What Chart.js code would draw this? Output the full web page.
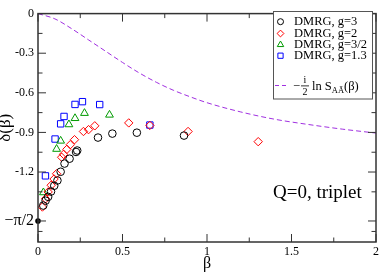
<!DOCTYPE html>
<html>
<head>
<meta charset="utf-8">
<script src="https://cdn.jsdelivr.net/npm/chart.js@4.4.0/dist/chart.umd.min.js"></script>
<style>
html, body { margin: 0; padding: 0; background: #fff; }
</style>
</head>
<body>
<canvas id="grafico" width="382" height="273"></canvas>
<script>
// DMRG data, g = 3
const betaG3 = [0.031, 0.045, 0.060, 0.077, 0.096, 0.115, 0.134, 0.157, 0.187, 0.225, 0.232, 0.355, 0.440, 0.585, 0.864];
const deltaG3 = [-1.454, -1.417, -1.388, -1.348, -1.304, -1.264, -1.198, -1.136, -1.099, -1.048, -1.037, -0.939, -0.909, -0.902, -0.924];
// g = 2
const betaG2 = [0.026, 0.045, 0.060, 0.078, 0.095, 0.110, 0.140, 0.151, 0.171, 0.191, 0.216, 0.269, 0.299, 0.336, 0.537, 0.662, 0.888, 1.303];
const deltaG2 = [-1.465, -1.403, -1.351, -1.300, -1.253, -1.213, -1.088, -1.066, -1.028, -0.993, -0.955, -0.893, -0.879, -0.850, -0.828, -0.847, -0.893, -0.970];
// g = 3/2
const betaG15 = [0.032, 0.110, 0.134, 0.183, 0.219, 0.275, 0.423];
const deltaG15 = [-1.355, -1.026, -0.964, -0.840, -0.793, -0.754, -0.767];
// g = 1.3
const betaG13 = [0.044, 0.101, 0.134, 0.154, 0.219, 0.263, 0.365, 0.662];
const deltaG13 = [-1.229, -0.950, -0.835, -0.779, -0.688, -0.667, -0.689, -0.844];
// -1/2 ln S(beta)
const betaCurva = [0, 0.1, 0.2, 0.3, 0.4, 0.5, 0.6, 0.7, 0.8, 0.9, 1.0, 1.2, 1.4, 1.6, 1.8, 2.0];
const deltaCurva = [0, -0.04, -0.115, -0.2, -0.285, -0.37, -0.45, -0.52, -0.58, -0.63, -0.675, -0.745, -0.80, -0.84, -0.875, -0.905];
// limit point at beta = 0
const betaLimite = [0];
const deltaLimite = [-Math.PI / 2];

const xTicks = [0, 0.5, 1, 1.5, 2];
const xMinor = [0.25, 0.75, 1.25, 1.75];
const yTicks = [0, -0.3, -0.6, -0.9, -1.2, -Math.PI / 2];
const yMinor = [-0.15, -0.45, -0.75, -1.05, -1.35, -1.65];

const serif = '"Liberation Serif", "Times New Roman", serif';

function puntos(xs, ys) {
    return xs.map((x, i) => ({ x: x, y: ys[i] }));
}

// frame with inward ticks on all four sides
const marco = {
    id: 'marco',
    afterDatasetsDraw(chart) {
        const { ctx, chartArea: a, scales } = chart;
        ctx.save();
        ctx.strokeStyle = '#333';
        ctx.lineWidth = 1;
        ctx.beginPath();
        xTicks.concat(xMinor).forEach(v => {
            const len = xTicks.includes(v) ? 8 : 4.5;
            const px = scales.x.getPixelForValue(v);
            ctx.moveTo(px, a.bottom); ctx.lineTo(px, a.bottom - len);
            ctx.moveTo(px, a.top); ctx.lineTo(px, a.top + len);
        });
        yTicks.concat(yMinor).forEach(v => {
            const len = yTicks.includes(v) ? 8 : 4.5;
            const py = scales.y.getPixelForValue(v);
            ctx.moveTo(a.left, py); ctx.lineTo(a.left + len, py);
            ctx.moveTo(a.right, py); ctx.lineTo(a.right - len, py);
        });
        ctx.stroke();
        ctx.lineWidth = 1.5;
        ctx.strokeRect(a.left, a.top, a.right - a.left, a.bottom - a.top);
        ctx.restore();
    }
};

// legend box and the "Q=0, triplet" note
const leyenda = {
    id: 'leyenda',
    afterDraw(chart) {
        const { ctx } = chart;
        ctx.save();
        ctx.fillStyle = '#fff';
        ctx.fillRect(273, 11.5, 99, 87.5);
        ctx.strokeStyle = '#555';
        ctx.lineWidth = 1;
        ctx.strokeRect(273.5, 11.5, 99, 87.5);

        const filas = [21.7, 33.5, 44.7, 55.7];
        chart.data.datasets.filter(d => d.enLeyenda).forEach((d, i) => {
            ctx.strokeStyle = d.borderColor;
            ctx.fillStyle = 'rgba(0,0,0,0)';
            ctx.lineWidth = 1;
            Chart.helpers.drawPoint(ctx, {
                pointStyle: d.pointStyle, radius: d.pointRadius - 0.8, rotation: 0, borderWidth: 1
            }, 280.5, filas[i]);
            ctx.fillStyle = '#000';
            ctx.font = '12.5px ' + serif;
            ctx.textBaseline = 'middle';
            ctx.fillText(d.label, 294, filas[i] + 0.5);
        });

        // dashed entry
        ctx.strokeStyle = '#a030e0';
        ctx.setLineDash([4, 3]);
        ctx.beginPath();
        ctx.moveTo(275, 85.5); ctx.lineTo(288, 85.5);
        ctx.stroke();
        ctx.setLineDash([]);
        ctx.fillStyle = '#000';
        ctx.textBaseline = 'alphabetic';
        ctx.font = '12.5px ' + serif;
        ctx.fillText('\u2212', 293, 90);
        ctx.font = '10px ' + serif;
        ctx.textAlign = 'center';
        ctx.fillText('i', 305, 83);
        ctx.fillText('2', 305, 95);
        ctx.fillRect(301, 85.5, 8, 0.8);
        ctx.textAlign = 'left';
        ctx.font = '12.5px ' + serif;
        ctx.fillText('ln S', 312, 90);
        const wS = ctx.measureText('ln S').width;
        ctx.font = '8.5px ' + serif;
        ctx.fillText('A\u0100', 312 + wS, 93);
        const wA = ctx.measureText('A\u0100').width;
        ctx.font = '12.5px ' + serif;
        ctx.fillText('(\u03b2)', 312 + wS + wA, 90);

        ctx.font = '19px ' + serif;
        ctx.fillText('Q=0, triplet', 273, 198);
        ctx.restore();
    }
};

const ctx = document.getElementById('grafico').getContext('2d');

new Chart(ctx, {
    type: 'scatter',
    data: {
        datasets: [
            {
                label: 'curva',
                data: puntos(betaCurva, deltaCurva),
                showLine: true,
                borderColor: '#a030e0',
                borderWidth: 1,
                borderDash: [5, 3],
                pointRadius: 0,
                cubicInterpolationMode: 'monotone'
            },
            {
                label: 'DMRG, g=3', enLeyenda: true,
                data: puntos(betaG3, deltaG3),
                pointStyle: 'circle', pointRadius: 3.8,
                borderColor: '#000', backgroundColor: 'rgba(0,0,0,0)', borderWidth: 1
            },
            {
                label: 'DMRG, g=2', enLeyenda: true,
                data: puntos(betaG2, deltaG2),
                pointStyle: 'rectRot', pointRadius: 4.2,
                borderColor: '#ff0000', backgroundColor: 'rgba(0,0,0,0)', borderWidth: 1
            },
            {
                label: 'DMRG, g=3/2', enLeyenda: true,
                data: puntos(betaG15, deltaG15),
                pointStyle: 'triangle', pointRadius: 4.5,
                borderColor: '#009a00', backgroundColor: 'rgba(0,0,0,0)', borderWidth: 1
            },
            {
                label: 'DMRG, g=1.3', enLeyenda: true,
                data: puntos(betaG13, deltaG13),
                pointStyle: 'rect', pointRadius: 4.5,
                borderColor: '#0000ff', backgroundColor: 'rgba(0,0,0,0)', borderWidth: 1
            },
            {
                label: 'limite',
                data: puntos(betaLimite, deltaLimite),
                pointStyle: 'circle', pointRadius: 2.8,
                borderColor: '#000', backgroundColor: '#000', borderWidth: 0,
                clip: false
            }
        ]
    },
    options: {
        responsive: false,
        animation: false,
        layout: { padding: { left: 0, right: 4, top: 5, bottom: 0 } },
        plugins: {
            legend: { display: false },
            tooltip: { enabled: false }
        },
        scales: {
            x: {
                type: 'linear',
                min: 0, max: 2,
                afterBuildTicks: s => { s.ticks = xTicks.map(v => ({ value: v })); },
                afterFit: s => { s.height = 31; },
                grid: { display: false, drawTicks: false },
                border: { display: false },
                ticks: {
                    autoSkip: false, maxRotation: 0, padding: 3,
                    color: '#000',
                    font: { family: serif, size: 12 },
                    callback: v => String(v)
                },
                title: {
                    display: true, text: '\u03b2', color: '#000',
                    font: { family: serif, size: 16, lineHeight: 1 },
                    padding: { top: 0, bottom: 1 }
                }
            },
            y: {
                type: 'linear',
                min: -1.73, max: 0,
                afterBuildTicks: s => { s.ticks = yTicks.map(v => ({ value: v })); },
                afterFit: s => { s.width = 38; },
                grid: { display: false, drawTicks: false },
                border: { display: false },
                ticks: {
                    autoSkip: false, padding: 4,
                    color: '#000',
                    font: c => (c.tick && Math.abs(c.tick.value + Math.PI / 2) < 1e-6)
                        ? { family: serif, size: 16 } : { family: serif, size: 12 },
                    callback: v => Math.abs(v + Math.PI / 2) < 1e-6 ? '\u2212\u03c0/2' : String(Math.round(v * 10) / 10)
                },
                title: {
                    display: true, text: '\u03b4(\u03b2)', color: '#000',
                    font: { family: serif, size: 17, lineHeight: 1 },
                    padding: { top: -2.5, bottom: 0 }
                }
            }
        }
    },
    plugins: [marco, leyenda]
});
</script>
</body>
</html>
